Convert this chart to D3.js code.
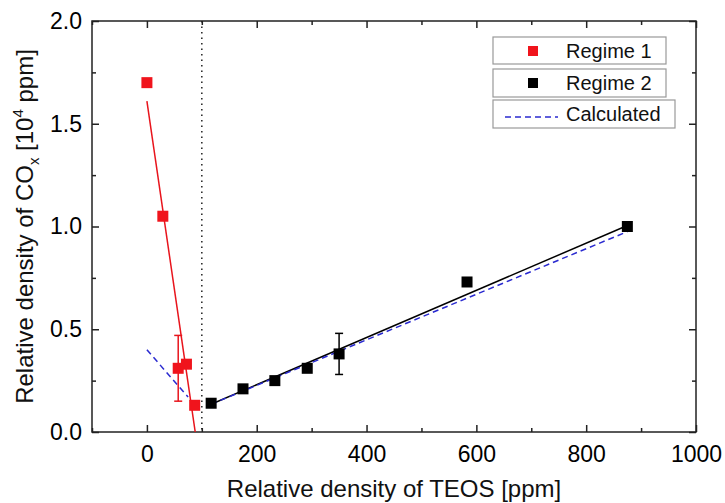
<!DOCTYPE html>
<html>
<head>
<meta charset="utf-8">
<script src="https://cdn.jsdelivr.net/npm/d3@7"></script>
<style>
  body { margin: 0; background: #fff; }
  text { font-family: "Liberation Sans", Arial, sans-serif; }
</style>
</head>
<body>
<div id="chart"></div>
<script>
// data
var regime1X = [0, 29, 57, 72, 87];
var regime1Y = [1.70, 1.05, 0.31, 0.33, 0.13];
var regime1Err = [0, 0, 0.16, 0, 0];

var regime2X = [117, 175, 233, 292, 350, 583, 875];
var regime2Y = [0.14, 0.21, 0.25, 0.31, 0.38, 0.73, 1.00];
var regime2Err = [0, 0, 0, 0, 0.10, 0, 0];

// fit lines and calculated curve (x, y)
var fit1 = [[0, 1.61], [88, 0]];
var fit2 = [[117, 0.135], [875, 1.005]];
var calc1 = [[0, 0.40], [75, 0.17]];
var calc2 = [[117, 0.135], [875, 0.975]];
var boundaryX = 100;

var xTicks = [0, 200, 400, 600, 800, 1000];
var yTicks = [0.0, 0.5, 1.0, 1.5, 2.0];
var legendLabels = ["Regime 1", "Regime 2", "Calculated"];

var width = 725, height = 503;
var margin = {top: 21, right: 29, bottom: 71, left: 92};

var svg = d3.select("#chart")
  .append("svg")
  .attr("width", width)
  .attr("height", height);

var x = d3.scaleLinear()
  .domain([-100, 1000])
  .range([margin.left, width - margin.right]);

var y = d3.scaleLinear()
  .domain([0, 2])
  .range([height - margin.bottom, margin.top]);

svg.append("clipPath")
  .attr("id", "clip")
  .append("rect")
  .attr("x", margin.left)
  .attr("y", margin.top)
  .attr("width", width - margin.left - margin.right)
  .attr("height", height - margin.top - margin.bottom);

var minorX = d3.range(-100, 1001, 100).filter(function(d) { return d % 200 != 0; });
var minorY = [0.25, 0.75, 1.25, 1.75];

// axes, ticks pointing inward
svg.append("g")
  .attr("transform", "translate(0," + y(0) + ")")
  .call(d3.axisBottom(x).tickValues(xTicks).tickSize(-7).tickPadding(14).tickFormat(d3.format("d")))
  .call(function(g) { g.select(".domain").remove(); })
  .selectAll("text")
  .style("font-size", "23px");

svg.append("g")
  .attr("transform", "translate(0," + y(0) + ")")
  .call(d3.axisBottom(x).tickValues(minorX).tickSize(-4).tickFormat(""))
  .call(function(g) { g.select(".domain").remove(); });

svg.append("g")
  .attr("transform", "translate(0," + y(2) + ")")
  .call(d3.axisTop(x).tickValues(xTicks).tickSize(-7).tickFormat(""))
  .call(function(g) { g.select(".domain").remove(); });

svg.append("g")
  .attr("transform", "translate(0," + y(2) + ")")
  .call(d3.axisTop(x).tickValues(minorX).tickSize(-4).tickFormat(""))
  .call(function(g) { g.select(".domain").remove(); });

svg.append("g")
  .attr("transform", "translate(" + x(-100) + ",0)")
  .call(d3.axisLeft(y).tickValues(yTicks).tickSize(-7).tickPadding(10).tickFormat(d3.format(".1f")))
  .call(function(g) { g.select(".domain").remove(); })
  .selectAll("text")
  .style("font-size", "23px");

svg.append("g")
  .attr("transform", "translate(" + x(-100) + ",0)")
  .call(d3.axisLeft(y).tickValues(minorY).tickSize(-4).tickFormat(""))
  .call(function(g) { g.select(".domain").remove(); });

svg.append("g")
  .attr("transform", "translate(" + x(1000) + ",0)")
  .call(d3.axisRight(y).tickValues(yTicks).tickSize(-7).tickFormat(""))
  .call(function(g) { g.select(".domain").remove(); });

svg.append("g")
  .attr("transform", "translate(" + x(1000) + ",0)")
  .call(d3.axisRight(y).tickValues(minorY).tickSize(-4).tickFormat(""))
  .call(function(g) { g.select(".domain").remove(); });

svg.selectAll(".tick line").attr("stroke", "#222").attr("stroke-width", 1.5);

// frame
svg.append("rect")
  .attr("x", x(-100))
  .attr("y", y(2))
  .attr("width", x(1000) - x(-100))
  .attr("height", y(0) - y(2))
  .attr("fill", "none")
  .attr("stroke", "#222")
  .attr("stroke-width", 1.5);

var plot = svg.append("g").attr("clip-path", "url(#clip)");

// boundary dotted line
plot.append("line")
  .attr("x1", x(boundaryX)).attr("x2", x(boundaryX))
  .attr("y1", y(2)).attr("y2", y(0))
  .attr("stroke", "#222")
  .attr("stroke-width", 1.5)
  .attr("stroke-dasharray", "1.5,4");

var line = d3.line()
  .x(function(d) { return x(d[0]); })
  .y(function(d) { return y(d[1]); });

plot.append("path").datum(fit1).attr("d", line)
  .attr("fill", "none").attr("stroke", "#e8141c").attr("stroke-width", 1.5);
plot.append("path").datum(fit2).attr("d", line)
  .attr("fill", "none").attr("stroke", "#000").attr("stroke-width", 1.5);

[calc1, calc2].forEach(function(c) {
  plot.append("path").datum(c).attr("d", line)
    .attr("fill", "none").attr("stroke", "#2a2ad0").attr("stroke-width", 1.5)
    .attr("stroke-dasharray", "6,4");
});

// error bars
function errorBars(xs, ys, errs, color) {
  xs.forEach(function(xv, i) {
    if (!errs[i]) return;
    var g = plot.append("g").attr("stroke", color).attr("stroke-width", 1.5);
    g.append("line").attr("x1", x(xv)).attr("x2", x(xv))
      .attr("y1", y(ys[i] + errs[i])).attr("y2", y(ys[i] - errs[i]));
    [ys[i] + errs[i], ys[i] - errs[i]].forEach(function(v) {
      g.append("line").attr("x1", x(xv) - 4).attr("x2", x(xv) + 4)
        .attr("y1", y(v)).attr("y2", y(v));
    });
  });
}
errorBars(regime1X, regime1Y, regime1Err, "#e8141c");
errorBars(regime2X, regime2Y, regime2Err, "#000");

var size = 11;
plot.selectAll(".r1")
  .data(regime1X)
  .enter()
  .append("rect")
  .attr("x", function(d) { return x(d) - size / 2; })
  .attr("y", function(d, i) { return y(regime1Y[i]) - size / 2; })
  .attr("width", size)
  .attr("height", size)
  .attr("fill", "#f0141c");

plot.selectAll(".r2")
  .data(regime2X)
  .enter()
  .append("rect")
  .attr("x", function(d) { return x(d) - size / 2; })
  .attr("y", function(d, i) { return y(regime2Y[i]) - size / 2; })
  .attr("width", size)
  .attr("height", size)
  .attr("fill", "#000");

// legend: three separate boxes
var boxes = [
  {x: 493, y: 37, w: 173, h: 27},
  {x: 493, y: 69, w: 173, h: 28},
  {x: 493, y: 100, w: 182, h: 28}
];
boxes.forEach(function(b, i) {
  svg.append("rect")
    .attr("x", b.x).attr("y", b.y)
    .attr("width", b.w).attr("height", b.h)
    .attr("fill", "#fff")
    .attr("stroke", "#999")
    .attr("stroke-width", 1.2);
  svg.append("text")
    .attr("x", 566)
    .attr("y", b.y + b.h / 2 + 7)
    .attr("fill", "#111")
    .style("font-size", "20px")
    .text(legendLabels[i]);
});
svg.append("rect").attr("x", 528).attr("y", 46).attr("width", 10).attr("height", 10).attr("fill", "#f0141c");
svg.append("rect").attr("x", 528).attr("y", 78).attr("width", 10).attr("height", 10).attr("fill", "#000");
svg.append("line").attr("x1", 505).attr("x2", 558).attr("y1", 117).attr("y2", 117)
  .attr("stroke", "#2a2ad0").attr("stroke-width", 1.5).attr("stroke-dasharray", "6,4");

// axis titles
svg.append("text")
  .attr("x", (x(-100) + x(1000)) / 2)
  .attr("y", 497)
  .attr("text-anchor", "middle")
  .attr("fill", "#111")
  .style("font-size", "24px")
  .text("Relative density of TEOS [ppm]");

var yt = svg.append("text")
  .attr("transform", "translate(33," + ((y(0) + y(2)) / 2) + ") rotate(-90)")
  .attr("text-anchor", "middle")
  .attr("fill", "#111")
  .style("font-size", "24px");
yt.append("tspan").text("Relative density of CO");
yt.append("tspan").attr("dy", 6).style("font-size", "15px").text("x");
yt.append("tspan").attr("dy", -6).text(" [10");
yt.append("tspan").attr("dy", -10).style("font-size", "15px").text("4");
yt.append("tspan").attr("dy", 10).text(" ppm]");
</script>
</body>
</html>
